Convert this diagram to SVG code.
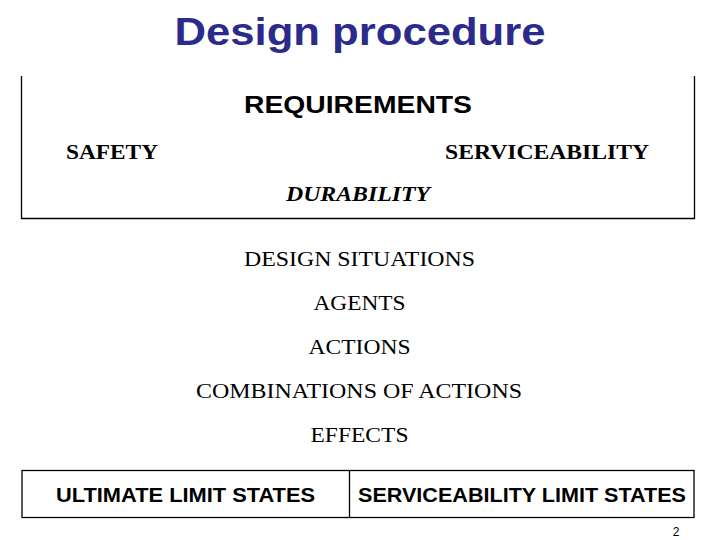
<svg xmlns="http://www.w3.org/2000/svg" width="720" height="540" viewBox="0 0 720 540">
<style>
.t{font-family:"Liberation Sans",Arial,sans-serif;font-weight:bold;text-anchor:middle}
.s{font-family:"Liberation Serif","Times New Roman",serif;text-anchor:middle;fill:#000}
.ln{stroke:#000;stroke-width:1.3;fill:none}
</style>
<rect width="720" height="540" fill="#fff"/>
<text class="t" x="360" y="45" font-size="38" fill="#2b2b8c" textLength="371" lengthAdjust="spacingAndGlyphs">Design procedure</text>
<g id="requirements">
<path class="ln" d="M21.5 76 V218.5 H694.5 V76"/>
<text class="t" x="358" y="113" font-size="24" textLength="228" lengthAdjust="spacingAndGlyphs">REQUIREMENTS</text>
<text class="s" x="112" y="159" font-size="22" font-weight="bold" textLength="92" lengthAdjust="spacingAndGlyphs">SAFETY</text>
<text class="s" x="547" y="159" font-size="22" font-weight="bold" textLength="204" lengthAdjust="spacingAndGlyphs">SERVICEABILITY</text>
<text class="s" x="358" y="201" font-size="22" font-weight="bold" font-style="italic" textLength="144" lengthAdjust="spacingAndGlyphs">DURABILITY</text>
</g>
<g id="steps">
<text class="s" x="359.5" y="266" font-size="22" textLength="231" lengthAdjust="spacingAndGlyphs">DESIGN SITUATIONS</text>
<text class="s" x="359.5" y="310" font-size="22" textLength="92" lengthAdjust="spacingAndGlyphs">AGENTS</text>
<text class="s" x="359.5" y="354" font-size="22" textLength="102" lengthAdjust="spacingAndGlyphs">ACTIONS</text>
<text class="s" x="359" y="398" font-size="22" textLength="326" lengthAdjust="spacingAndGlyphs">COMBINATIONS OF ACTIONS</text>
<text class="s" x="359.5" y="442" font-size="22" textLength="98" lengthAdjust="spacingAndGlyphs">EFFECTS</text>
</g>
<g id="limit-states">
<rect class="ln" x="22" y="470.5" width="672" height="47"/>
<line class="ln" x1="349.5" y1="470.5" x2="349.5" y2="517.5"/>
<text class="t" x="185.5" y="502" font-size="20" fill="#000" textLength="259" lengthAdjust="spacingAndGlyphs">ULTIMATE LIMIT STATES</text>
<text class="t" x="522" y="502" font-size="20" fill="#000" textLength="328" lengthAdjust="spacingAndGlyphs">SERVICEABILITY LIMIT STATES</text>
</g>
<text x="676" y="536" font-family="Liberation Sans,sans-serif" font-size="12" fill="#000" text-anchor="middle">2</text>
</svg>
